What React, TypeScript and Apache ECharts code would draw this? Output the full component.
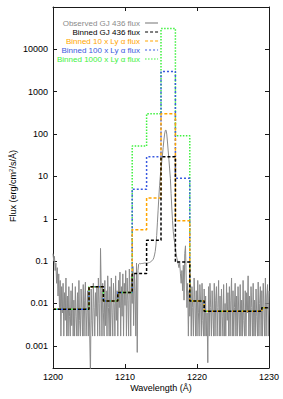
import React, { useEffect, useRef } from "react";
import * as echarts from "echarts";

// Observed spectrum: wavelength grid start and step (Å), flux values (erg/cm2/s/Å)
const obsStart = 1200;
const obsStep = 0.1;
const obsFlux = [
  0.15, 0.1, 0.13, 0.06, 0.09, 0.03, 0.07, 0.015, 0.05, 0.008,
  0.035, 0.0017, 0.025, 0.006, 0.03, 0.0017, 0.018, 0.004, 0.04, 0.0017,
  0.015, 0.0017, 0.025, 0.005, 0.0017, 0.02, 0.003, 0.03, 0.0017, 0.012,
  0.0017, 0.025, 0.005, 0.0017, 0.018, 0.0017, 0.035, 0.004, 0.0017, 0.022,
  0.008, 0.0017, 0.028, 0.0017, 0.012, 0.032, 0.0017, 0.006, 0.02, 0.0017,
  0.015, 0.0017, 0.0002, 0.022, 0.004, 0.0017, 0.03, 0.008, 0.0017, 0.018,
  0.005, 0.025, 0.0017, 0.04, 0.01, 0.0017, 0.2, 0.02, 0.0017, 0.03,
  0.006, 0.0017, 0.035, 0.003, 0.02, 0.0017, 0.045, 0.008, 0.0017, 0.025,
  0.0017, 0.04, 0.006, 0.0017, 0.03, 0.01, 0.0017, 0.045, 0.004, 0.02,
  0.0017, 0.035, 0.008, 0.055, 0.0017, 0.025, 0.005, 0.05, 0.0017, 0.03,
  0.009, 0.06, 0.0017, 0.04, 0.012, 0.0017, 0.065, 0.02, 0.0017, 0.045,
  0.01, 0.075, 0.003, 0.05, 0.02, 0.0017, 0.09, 0.0007, 0.06, 0.085,
  0.088, 0.087, 0.087, 0.088, 0.088, 0.089, 0.089, 0.09, 0.09, 0.09,
  0.09, 0.09, 0.091, 0.092, 0.093, 0.095, 0.097, 0.1, 0.105, 0.11,
  0.12, 0.14, 0.17, 0.24, 0.4, 0.8, 1.6, 3.2, 6, 10,
  15, 22, 32, 48, 72, 100, 122, 124, 100, 65,
  40, 25, 15, 9, 4, 1.8, 0.9, 0.5, 0.35, 0.27,
  0.19, 0.15, 0.12, 0.1, 0.085, 0.07, 0.09, 0.05, 0.03, 0.06,
  0.02, 0.08, 0.012, 0.15, 0.23, 0.04, 0.008, 0.03, 0.0017, 0.02,
  0.005, 0.03, 0.0017, 0.025, 0.008, 0.0017, 0.04, 0.012, 0.0017, 0.02,
  0.0017, 0.035, 0.006, 0.0017, 0.028, 0.01, 0.0017, 0.03, 0.004, 0.0017,
  0.022, 0.0017, 0.015, 0.0017, 0.006, 0.0004, 0.025, 0.0017, 0.03, 0.008,
  0.0017, 0.02, 0.006, 0.0017, 0.03, 0.0017, 0.012, 0.025, 0.0017, 0.008,
  0.035, 0.0017, 0.015, 0.0017, 0.022, 0.005, 0.0017, 0.028, 0.0017, 0.01,
  0.0017, 0.03, 0.004, 0.018, 0.0017, 0.025, 0.0017, 0.012, 0.04, 0.0017,
  0.02, 0.0017, 0.008, 0.03, 0.0017, 0.015, 0.0017, 0.025, 0.006, 0.0017,
  0.028, 0.0017, 0.012, 0.0017, 0.035, 0.004, 0.0017, 0.02, 0.0017, 0.018,
  0.006, 0.045, 0.0017, 0.015, 0.0017, 0.025, 0.008, 0.0017, 0.03, 0.0017,
  0.012, 0.0017, 0.022, 0.005, 0.0017, 0.032, 0.0017, 0.01, 0.025, 0.0017,
  0.02, 0.0017, 0.03, 0.008, 0.0017, 0.04, 0.0017, 0.015, 0.028, 0.0017,
  0.02,
];

// Binned spectra: bin edges (Å) and flux per bin
const binEdges = [1200, 1205, 1207, 1209, 1211, 1213, 1215, 1217, 1219, 1221, 1229, 1230];
const binnedObs = [0.0073, 0.0247, 0.0115, 0.0182, 0.051, 0.31, 29, 0.095, 0.0115, 0.0066, 0.0079];
const binned10 = [0.0073, 0.0247, 0.0115, 0.0182, 0.55, 3.1, 302, 0.9, 0.0115, 0.0066, 0.0079];
const binned100 = [0.0073, 0.0247, 0.0115, 0.0182, 5.0, 29, 3020, 9.0, 0.0115, 0.0066, 0.0079];
const binned1000 = [0.0073, 0.0247, 0.0115, 0.0182, 52, 302, 31000, 91, 0.0115, 0.0066, 0.0079];

const yTickExps = [-3, -2, -1, 0, 1, 2, 3, 4];
const yTickLabels = ["0.001", "0.01", "0.1", "1", "10", "100", "1000", "10000"];
const xTicks = [1200, 1210, 1220, 1230];

const names = [
  "Observed GJ 436 flux",
  "Binned GJ 436 flux",
  "Binned 10 x Ly α flux",
  "Binned 100 x Ly α flux",
  "Binned 1000 x Ly α flux",
];
const colors = ["#8a8a8a", "#000000", "#ffa500", "#3a5ae0", "#3ef03e"];

const FONT = "Liberation Sans, Arial, Helvetica, sans-serif";

function stepData(vals: number[]) {
  return binEdges.map((e, i) => [e, Math.log10(vals[Math.min(i, vals.length - 1)])]);
}

export default function App() {
  const ref = useRef<HTMLDivElement>(null);
  useEffect(() => {
    if (!ref.current) return;
    const chart = echarts.init(ref.current, null, { renderer: "svg" });
    const obsData = obsFlux.map((v, i) => [obsStart + i * obsStep, Math.log10(v)]);
    const axisLineStyle = { color: "#1a1a1a", width: 1 };
    const labelFmt = (v: number) => {
      const idx = yTickExps.indexOf(Math.round(v));
      return idx >= 0 ? yTickLabels[idx] : "";
    };
    const stepSeries = (name: string, vals: number[], color: string, dash: number[], z: number) => ({
      name,
      type: "line",
      step: "end",
      data: stepData(vals),
      symbol: "none",
      showSymbol: false,
      xAxisIndex: 0,
      yAxisIndex: 0,
      z,
      lineStyle: { color, width: 1.5, type: dash },
      itemStyle: { color },
    });
    chart.setOption({
      animation: false,
      backgroundColor: "#ffffff",
      grid: { left: 53, right: 14, top: 7, bottom: 31, containLabel: false },
      legend: {
        orient: "vertical",
        left: 52,
        top: 14,
        align: "right",
        itemWidth: 13,
        itemHeight: 8,
        itemGap: 1,
        selectedMode: false,
        itemStyle: { opacity: 0 },
        lineStyle: { width: 1.2 },
        textStyle: { fontSize: 8, fontFamily: FONT, lineHeight: 8 },
        data: names.map((n, i) => ({ name: n, textStyle: { color: colors[i] } })),
      },
      xAxis: [
        {
          type: "value",
          min: 1200,
          max: 1230,
          interval: 10,
          position: "bottom",
          axisLine: { show: true, onZero: false, lineStyle: axisLineStyle },
          axisTick: { show: true, inside: true, length: 4, lineStyle: axisLineStyle },
          axisLabel: { fontSize: 9, color: "#000", fontFamily: FONT, margin: 4,
            formatter: (v: number) => (xTicks.includes(v) ? String(v) : "") },
          splitLine: { show: false },
        },
        {
          type: "value",
          min: 1200,
          max: 1230,
          interval: 10,
          position: "top",
          axisLine: { show: true, onZero: false, lineStyle: axisLineStyle },
          axisTick: { show: true, inside: true, length: 4, lineStyle: axisLineStyle },
          axisLabel: { show: false },
          splitLine: { show: false },
        },
      ],
      yAxis: [
        {
          type: "value",
          min: Math.log10(0.0003),
          max: 5,
          position: "left",
          axisLine: { show: true, onZero: false, lineStyle: axisLineStyle },
          axisTick: { show: true, inside: true, length: 4, lineStyle: axisLineStyle, customValues: yTickExps },
          axisLabel: { fontSize: 9, color: "#000", fontFamily: FONT, margin: 5, customValues: yTickExps, formatter: labelFmt },
          splitLine: { show: false },
        },
        {
          type: "value",
          min: Math.log10(0.0003),
          max: 5,
          position: "right",
          axisLine: { show: true, onZero: false, lineStyle: axisLineStyle },
          axisTick: { show: true, inside: true, length: 4, lineStyle: axisLineStyle, customValues: yTickExps },
          axisLabel: { show: false, customValues: yTickExps },
          splitLine: { show: false },
        },
      ],
      graphic: [
        {
          type: "text",
          x: 161,
          y: 388,
          style: { text: "Wavelength (Å)", fontSize: 9, fontFamily: FONT, fill: "#000", align: "center", verticalAlign: "middle" },
        },
        {
          type: "text",
          x: 13,
          y: 186,
          rotation: Math.PI / 2,
          style: {
            text: "Flux (erg/cm{s|2}/s/Å)",
            fontSize: 9,
            fontFamily: FONT,
            fill: "#000",
            align: "center",
            verticalAlign: "middle",
            rich: { s: { fontSize: 6, fontFamily: FONT, fill: "#000", verticalAlign: "bottom", padding: [0, 0, 5, 0] } },
          },
        },
      ],
      series: [
        {
          name: names[0],
          type: "line",
          data: obsData,
          symbol: "none",
          showSymbol: false,
          clip: true,
          z: 1,
          lineStyle: { color: colors[0], width: 1 },
          itemStyle: { color: colors[0] },
        },
        stepSeries(names[1], binnedObs, colors[1], [3, 2], 6),
        stepSeries(names[2], binned10, colors[2], [3, 2], 5),
        stepSeries(names[3], binned100, colors[3], [2, 2], 4),
        stepSeries(names[4], binned1000, colors[4], [1.5, 1.5], 3),
      ],
    });
    return () => chart.dispose();
  }, []);
  return <div ref={ref} style={{ width: 283, height: 399, position: "absolute", left: 0, top: 0 }} />;
}
